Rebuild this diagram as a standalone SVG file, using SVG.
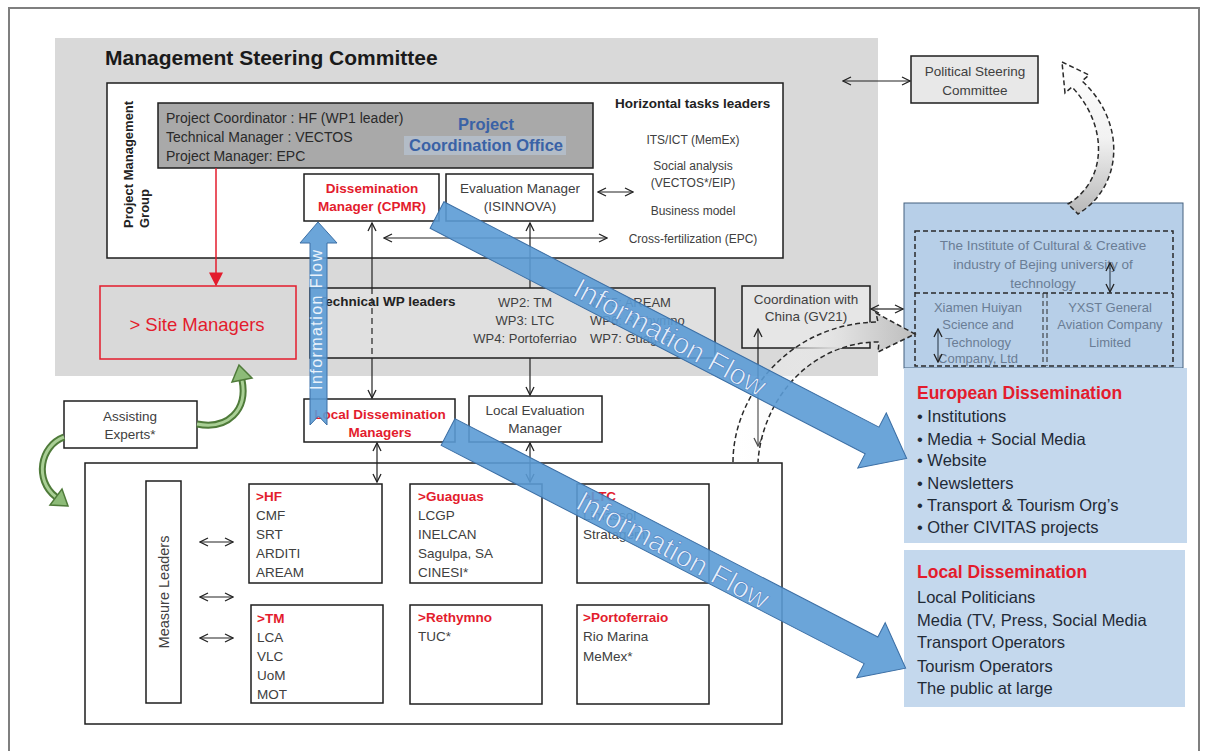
<svg xmlns="http://www.w3.org/2000/svg" width="1208" height="751" viewBox="0 0 1208 751">
<style>
text{font-family:"Liberation Sans",Arial,sans-serif;fill:#404040;font-size:13.5px}
.b{font-weight:bold}
.c{text-anchor:middle}
.box{fill:#fff;stroke:#1e1e1e;stroke-width:1.5}
.ln{stroke:#222;stroke-width:1.2;fill:none}
.red{fill:#e31c2d}
.blue{fill:#5b9bd5;fill-opacity:.9;stroke:#3c6fa5;stroke-width:1}
.ds{stroke:#2a2a2a;stroke-width:1.5;stroke-dasharray:5 3}
.inst{fill:#6a7d95;font-size:13.5px}
.eu{fill:#1f2a36;font-size:16.5px}
.flow{fill:#e6effa;stroke:#4f86c6;stroke-width:.7}
.grn{fill:none;stroke:#4f7b3a;stroke-width:7}
.grn2{fill:none;stroke:#a9cf95;stroke-width:3}
</style>
<defs>
<marker id="oh" viewBox="0 0 10 10" refX="9" refY="5" markerWidth="10" markerHeight="10" markerUnits="userSpaceOnUse" orient="auto-start-reverse"><path d="M1,1 L9,5 L1,9" fill="none" stroke="#222" stroke-width="1.3"/></marker>
<marker id="rh" viewBox="0 0 10 10" refX="9" refY="5" markerWidth="14" markerHeight="14" markerUnits="userSpaceOnUse" orient="auto"><path d="M0,0 L10,5 L0,10 Z" fill="#e31c2d"/></marker>
<linearGradient id="gv" x1="0" y1="0" x2="0" y2="1"><stop offset="0" stop-color="#ffffff"/><stop offset="0.5" stop-color="#f2f2f2"/><stop offset="1" stop-color="#b8b8b8"/></linearGradient>
<linearGradient id="gh" x1="0" y1="0" x2="1" y2="0"><stop offset="0" stop-color="#ffffff" stop-opacity="0"/><stop offset="0.6" stop-color="#e0e0e0"/><stop offset="1" stop-color="#bdbdbd"/></linearGradient>
</defs>
<rect x="0" y="0" width="1208" height="751" fill="#fff"/>
<rect x="9" y="8" width="1190" height="760" fill="none" stroke="#7f7f7f" stroke-width="2"/>

<g id="msc">
<rect x="55" y="38" width="823" height="338" fill="#d9d9d9"/>
<text x="105" y="65" class="b" style="font-size:21px;fill:#1a1a1a">Management Steering Committee</text>
</g>

<g id="pmg">
<rect x="107" y="83" width="676" height="175" class="box"/>
<text transform="translate(133,228) rotate(-90)" class="b" style="font-size:13px;fill:#222">Project Management</text>
<text transform="translate(149,228) rotate(-90)" class="b" style="font-size:13px;fill:#222">Group</text>
</g>

<g id="pco">
<rect x="158" y="103" width="435" height="65" fill="#a9a9a9" stroke="#1e1e1e" stroke-width="1.5"/>
<text x="166" y="123" style="font-size:14px;fill:#2a2a2a">Project Coordinator : HF (WP1 leader)</text>
<text x="166" y="142" style="font-size:14px;fill:#2a2a2a">Technical Manager : VECTOS</text>
<text x="166" y="161" style="font-size:14px;fill:#2a2a2a">Project Manager: EPC</text>
<rect x="404" y="136" width="162" height="19" fill="#b3bcc7"/>
<text x="486" y="130" class="b c" style="font-size:16.5px;fill:#3a62a6">Project</text>
<text x="486" y="151" class="b c" style="font-size:16.5px;fill:#3a62a6">Coordination Office</text>
</g>

<g id="htl">
<text x="615" y="108" class="b" style="font-size:13.5px;fill:#222">Horizontal tasks leaders</text>
<text x="693" y="144" class="c" style="font-size:12px">ITS/ICT (MemEx)</text>
<text x="693" y="170" class="c" style="font-size:12px">Social analysis</text>
<text x="693" y="187" class="c" style="font-size:12px">(VECTOS*/EIP)</text>
<text x="693" y="215" class="c" style="font-size:12px">Business model</text>
<text x="693" y="243" class="c" style="font-size:12px">Cross-fertilization (EPC)</text>
</g>

<g id="dissem-manager">
<rect x="304" y="174" width="135" height="47" class="box"/>
<text x="372" y="193" class="b c red">Dissemination</text>
<text x="372" y="211" class="b c red">Manager (CPMR)</text>
</g>

<g id="eval-manager">
<rect x="446" y="174" width="147" height="47" class="box"/>
<text x="520" y="193" class="c">Evaluation Manager</text>
<text x="520" y="211" class="c">(ISINNOVA)</text>
</g>

<g id="wp-leaders">
<rect x="310" y="288" width="405" height="70" fill="#e0e0e0" stroke="#1e1e1e" stroke-width="1.5"/>
<text x="318" y="306" class="b" style="fill:#222">Technical WP leaders</text>
<text x="525" y="307" class="c" style="font-size:13px">WP2: TM</text>
<text x="525" y="325" class="c" style="font-size:13px">WP3: LTC</text>
<text x="525" y="343" class="c" style="font-size:13px">WP4: Portoferriao</text>
<text x="590" y="307" style="font-size:13px">WP5: AREAM</text>
<text x="590" y="325" style="font-size:13px">WP6: Rethymno</text>
<text x="590" y="343" style="font-size:13px">WP7: Guaguas</text>
</g>

<g id="site-managers">
<rect x="100" y="286" width="196" height="73" fill="#d9d9d9" stroke="#e31c2d" stroke-width="1.5"/>
<text x="197" y="331" class="c red" style="font-size:18.5px">&gt; Site Managers</text>
</g>

<g id="coord-china">
<rect x="742" y="286" width="128" height="62" fill="#e6e6e6" stroke="#1e1e1e" stroke-width="1.5"/>
<text x="806" y="304" class="c">Coordination with</text>
<text x="806" y="321" class="c">China (GV21)</text>
</g>

<g id="political">
<rect x="911" y="56" width="127" height="47" fill="#e8e8e8" stroke="#1e1e1e" stroke-width="1.5"/>
<text x="975" y="76" class="c">Political Steering</text>
<text x="975" y="95" class="c">Committee</text>
</g>

<g id="institute">
<rect x="904" y="203" width="279" height="165" fill="#b7cfe8" stroke="#44617f" stroke-width="1"/>
<rect x="915" y="231" width="258" height="135" fill="none" class="ds"/>
<line x1="915" y1="293" x2="1173" y2="293" class="ds"/>
<line x1="1043" y1="293" x2="1043" y2="366" class="ds" style="stroke-width:1"/>
<line x1="1047" y1="293" x2="1047" y2="366" class="ds" style="stroke-width:1"/>
<text x="1043" y="250" class="c inst">The Institute of Cultural &amp; Creative</text>
<text x="1043" y="269" class="c inst">industry of Bejing university of</text>
<text x="1043" y="288" class="c inst">technology</text>
<text x="978" y="312" class="c inst" style="font-size:13px">Xiamen Huiyan</text>
<text x="978" y="329" class="c inst" style="font-size:13px">Science and</text>
<text x="978" y="347" class="c inst" style="font-size:13px">Technology</text>
<text x="978" y="363" class="c inst" style="font-size:13px">Company, Ltd</text>
<text x="1110" y="312" class="c inst" style="font-size:13px">YXST General</text>
<text x="1110" y="329" class="c inst" style="font-size:13px">Aviation Company</text>
<text x="1110" y="347" class="c inst" style="font-size:13px">Limited</text>
</g>

<g id="european">
<rect x="904" y="368" width="283" height="175" fill="#c4d8ed"/>
<text x="917" y="399" class="b red" style="font-size:17.5px">European  Dissemination</text>
<text x="917" y="422" class="eu">• Institutions</text>
<text x="917" y="445" class="eu">• Media  + Social Media</text>
<text x="917" y="466" class="eu">• Website</text>
<text x="917" y="489" class="eu">• Newsletters</text>
<text x="917" y="511" class="eu">• Transport &amp; Tourism Org’s</text>
<text x="917" y="533" class="eu">• Other CIVITAS projects</text>
</g>

<g id="local">
<rect x="904" y="550" width="281" height="157" fill="#c4d8ed"/>
<text x="917" y="578" class="b red" style="font-size:17.5px">Local Dissemination</text>
<text x="917" y="603" class="eu">Local Politicians</text>
<text x="917" y="626" class="eu">Media (TV, Press, Social Media</text>
<text x="917" y="648" class="eu">Transport Operators</text>
<text x="917" y="672" class="eu">Tourism Operators</text>
<text x="917" y="694" class="eu">The public at large</text>
</g>

<g id="assisting">
<rect x="64" y="401" width="133" height="47" class="box"/>
<text x="130" y="421" class="c">Assisting</text>
<text x="130" y="439" class="c">Experts*</text>
</g>

<g id="local-dissem-managers">
<rect x="304" y="399" width="151" height="43" class="box"/>
<text x="380" y="419" class="b c red">Local Dissemination</text>
<text x="380" y="437" class="b c red">Managers</text>
</g>

<g id="local-eval">
<rect x="469" y="396" width="133" height="46" class="box"/>
<text x="535" y="415" class="c">Local Evaluation</text>
<text x="535" y="433" class="c">Manager</text>
</g>

<g id="measures">
<rect x="85" y="463" width="697" height="261" class="box"/>
<rect x="146" y="481" width="35" height="222" class="box"/>
<text transform="translate(169,592) rotate(-90)" class="c" style="font-size:14.5px">Measure  Leaders</text>
</g>

<g id="hf">
<rect x="249" y="484" width="133" height="99" class="box"/>
<text x="256" y="501" class="b red">&gt;HF</text>
<text x="256" y="520">CMF</text>
<text x="256" y="539">SRT</text>
<text x="256" y="558">ARDITI</text>
<text x="256" y="577">AREAM</text>
</g>
<g id="guaguas">
<rect x="410" y="484" width="132" height="99" class="box"/>
<text x="418" y="501" class="b red">&gt;Guaguas</text>
<text x="418" y="520">LCGP</text>
<text x="418" y="539">INELCAN</text>
<text x="418" y="558">Sagulpa, SA</text>
<text x="418" y="577">CINESI*</text>
</g>
<g id="ltc">
<rect x="577" y="484" width="132" height="99" class="box"/>
<text x="583" y="501" class="b red">&gt;LTC</text>
<text x="583" y="520">Limassol</text>
<text x="583" y="539">Stratagem*</text>
</g>
<g id="tm">
<rect x="251" y="605" width="132" height="98" class="box"/>
<text x="257" y="623" class="b red">&gt;TM</text>
<text x="257" y="642">LCA</text>
<text x="257" y="661">VLC</text>
<text x="257" y="680">UoM</text>
<text x="257" y="699">MOT</text>
</g>
<g id="rethymno">
<rect x="410" y="605" width="132" height="99" class="box"/>
<text x="418" y="622" class="b red">&gt;Rethymno</text>
<text x="418" y="641">TUC*</text>
</g>
<g id="portoferraio">
<rect x="577" y="605" width="132" height="99" class="box"/>
<text x="583" y="622" class="b red">&gt;Portoferraio</text>
<text x="583" y="641">Rio Marina</text>
<text x="583" y="661">MeMex*</text>
</g>

<g id="connectors">
<line x1="216" y1="168" x2="216" y2="285" stroke="#e31c2d" stroke-width="1.5" marker-end="url(#rh)"/>
<line x1="598" y1="192" x2="633" y2="192" class="ln" marker-start="url(#oh)" marker-end="url(#oh)"/>
<line x1="384" y1="238" x2="607" y2="238" class="ln" marker-start="url(#oh)" marker-end="url(#oh)"/>
<line x1="843" y1="81" x2="910" y2="81" class="ln" marker-start="url(#oh)" marker-end="url(#oh)"/>
<line x1="871" y1="309" x2="903" y2="309" class="ln" marker-start="url(#oh)" marker-end="url(#oh)"/>
<line x1="372" y1="223" x2="372" y2="288" class="ln" marker-start="url(#oh)"/>
<line x1="372" y1="288" x2="372" y2="358" class="ln" stroke-dasharray="6 4"/>
<line x1="372" y1="358" x2="372" y2="398" class="ln" marker-end="url(#oh)"/>
<line x1="530" y1="223" x2="530" y2="288" class="ln" marker-start="url(#oh)"/>
<line x1="530" y1="358" x2="530" y2="395" class="ln" marker-end="url(#oh)"/>
<line x1="530" y1="443" x2="530" y2="482" class="ln" marker-start="url(#oh)" marker-end="url(#oh)"/>
<line x1="377" y1="443" x2="377" y2="482" class="ln" marker-start="url(#oh)" marker-end="url(#oh)"/>
<line x1="200" y1="542" x2="233" y2="542" class="ln" marker-start="url(#oh)" marker-end="url(#oh)"/>
<line x1="200" y1="597" x2="233" y2="597" class="ln" marker-start="url(#oh)" marker-end="url(#oh)"/>
<line x1="200" y1="638" x2="233" y2="638" class="ln" marker-start="url(#oh)" marker-end="url(#oh)"/>
<line x1="758" y1="329" x2="758" y2="446" class="ln" marker-start="url(#oh)" marker-end="url(#oh)"/>
<line x1="1110" y1="263" x2="1110" y2="292" class="ln" style="stroke:#3a4a5c" marker-start="url(#oh)" marker-end="url(#oh)"/>
<line x1="938" y1="329" x2="938" y2="362" class="ln" style="stroke:#3a4a5c" marker-start="url(#oh)" marker-end="url(#oh)"/>
<path d="M1062,62 L1089,75 L1082,81 C1125,120 1125,185 1078,214 L1068,204 C1108,180 1108,125 1072,87 L1065,93 Z" fill="url(#gv)" class="ds"/>
<path d="M733,462 C733,395 790,323 878,322 L876,313 L915,334 L878,352 L879,342 C810,342 762,400 758,462" fill="url(#gh)" class="ds"/>
<path d="M197,424 C228,430 248,410 242,380" class="grn"/>
<path d="M197,424 C228,430 248,410 242,380" class="grn2"/>
<polygon points="239,365 252,378 232,382" fill="#8dbb78" stroke="#4f7b3a" stroke-width="1.5"/>
<path d="M64,437 C40,446 34,480 56,497" class="grn"/>
<path d="M64,437 C40,446 34,480 56,497" class="grn2"/>
<polygon points="68,506 50,505 62,489" fill="#8dbb78" stroke="#4f7b3a" stroke-width="1.5"/>
</g>

<g id="info-flows">
<path d="M310,425 L310,243 L300,243 L318,222 L337,243 L327,243 L327,425 L318.5,416 Z" class="blue"/>
<text transform="translate(322,320) rotate(-90)" class="c" style="font-size:16px;fill:#eaf2fb" textLength="140">Information Flow</text>
<g transform="translate(437,215) rotate(27.4)">
<path d="M0,-15 L490,-15 L490,-31 L529,0 L490,31 L490,15 L0,15 Z" class="blue"/>
</g>
<text transform="translate(670,337) rotate(28.5)" class="c flow" style="font-size:29px" dominant-baseline="central">Information Flow</text>
<g transform="translate(448,432) rotate(27.3)">
<path d="M0,-15 L476,-15 L476,-31 L515,0 L476,31 L476,15 L0,15 Z" class="blue"/>
</g>
<text transform="translate(673,550) rotate(28.5)" class="c flow" style="font-size:29px" dominant-baseline="central">Information Flow</text>
</g>
</svg>
